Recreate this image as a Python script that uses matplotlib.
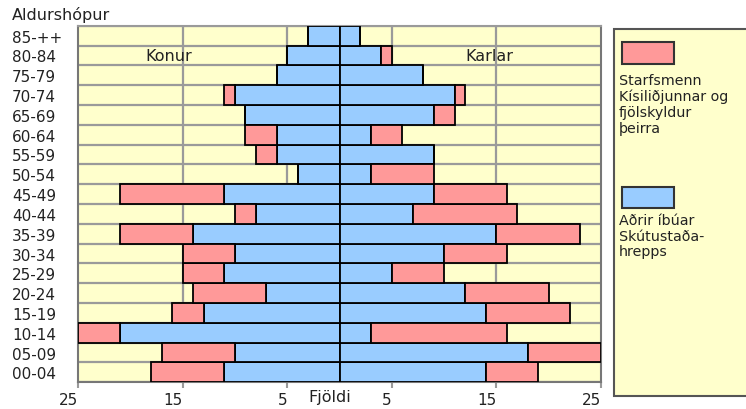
import matplotlib
matplotlib.use("Agg")
import matplotlib.pyplot as plt
from matplotlib.patches import Rectangle
import numpy as np

age_groups = ["00-04", "05-09", "10-14", "15-19", "20-24", "25-29", "30-34", "35-39",
              "40-44", "45-49", "50-54", "55-59", "60-64", "65-69", "70-74", "75-79",
              "80-84", "85-++"]
women_other = [11, 10, 21, 13, 7, 11, 10, 14, 8, 11, 4, 6, 6, 9, 10, 6, 5, 3]
women_kisil = [7, 7, 4, 3, 7, 4, 5, 7, 2, 10, 0, 2, 3, 0, 1, 0, 0, 0]
men_other = [14, 18, 3, 14, 12, 5, 10, 15, 7, 9, 3, 9, 3, 9, 11, 8, 4, 2]
men_kisil = [5, 7, 13, 8, 8, 5, 6, 8, 10, 7, 6, 0, 3, 2, 1, 0, 1, 0]
xtick_values = [-25, -15, -5, 5, 15, 25]
xtick_labels = ["25", "15", "5", "5", "15", "25"]
legend_kisil = "Starfsmenn\nKísiliðjunnar og\nfjölskyldur\nþeirra"
legend_other = "Aðrir íbúar\nSkútustaða-\nhrepps"

BLUE = "#99CCFF"
PINK = "#FF9999"
YELLOW = "#FFFFCC"
GRID = "#9a9a9a"
TXT = "#222222"

plt.rcParams['font.family'] = ['DejaVu Sans']
fig = plt.figure(figsize=(7.46, 4.10), dpi=100)
W, H = 746, 410
ax = fig.add_axes([78 / W, 1 - 383.3 / H, (601 - 78) / W, (383.3 - 26.7) / H])
ax.set_facecolor(YELLOW)

y = np.arange(len(age_groups))
wo = np.array(women_other)
wk = np.array(women_kisil)
mo = np.array(men_other)
mk = np.array(men_kisil)

for xv in [-15, -5, 5, 15]:
    ax.axvline(xv, color=GRID, lw=1.6, zorder=1)
ax.set_yticks(np.arange(len(age_groups) + 1) - 0.5, minor=True)
ax.grid(axis='y', which='minor', color=GRID, lw=1.6, zorder=1)
ax.set_axisbelow(True)

kw = dict(height=1.0, edgecolor="black", linewidth=1.3, zorder=3)
ax.barh(y, -wo, color=BLUE, **kw)
ax.barh(y, -wk, left=-wo, color=PINK, **kw)
ax.barh(y, mo, color=BLUE, **kw)
ax.barh(y, mk, left=mo, color=PINK, **kw)

ax.set_xlim(-25, 25)
ax.set_ylim(-0.5, len(age_groups) - 0.5)
ax.set_yticks(y)
ax.set_yticklabels(age_groups, fontsize=11, ha='left', color=TXT)
ax.tick_params(axis='y', which='both', length=0, pad=47.5)
ax.set_xticks(xtick_values)
ax.set_xticklabels(xtick_labels, fontsize=11, ha='right', color=TXT)
ax.tick_params(axis='x', length=4, color=GRID, width=1.5, pad=3)
for s in ax.spines.values():
    s.set_color("#777777")
    s.set_linewidth(1.5)
ax.spines['top'].set_color(GRID)

ax.text(-16.3, 16, "Konur", fontsize=11.5, ha='center', va='center', color=TXT, zorder=5)
ax.text(14.3, 16, "Karlar", fontsize=11.5, ha='center', va='center', color=TXT, zorder=5)

fig.text(12 / W, 1 - 15 / H, "Aldurshópur", fontsize=11.5, ha='left', va='center', color=TXT)
fig.text(330 / W, 1 - 398 / H, "Fjöldi", fontsize=11.5, ha='center', va='center', color=TXT)

# legend box
fig.patches.append(Rectangle((614 / W, 1 - 397 / H), 140 / W, 367 / H, transform=fig.transFigure,
                             facecolor=YELLOW, edgecolor="#555555", lw=1.5, zorder=0))
fig.patches.append(Rectangle((622 / W, 1 - 65 / H), 52 / W, 22 / H, transform=fig.transFigure,
                             facecolor=PINK, edgecolor="#333333", lw=1.5, zorder=1))
fig.patches.append(Rectangle((622 / W, 1 - 209 / H), 52 / W, 21 / H, transform=fig.transFigure,
                             facecolor=BLUE, edgecolor="#333333", lw=1.5, zorder=1))
fig.text(619 / W, 1 - 74 / H, legend_kisil, fontsize=10.3, ha='left', va='top',
         linespacing=1.15, color=TXT)
fig.text(619 / W, 1 - 214 / H, legend_other, fontsize=10.3, ha='left', va='top',
         linespacing=1.15, color=TXT)

fig.savefig("out.png", dpi=100)
